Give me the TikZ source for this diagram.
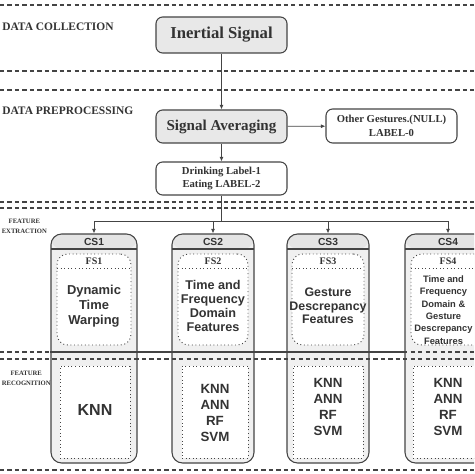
\documentclass[tikz,border=0pt]{standalone}
\usepackage{fontspec}
\setmainfont{Liberation Serif}
\setsansfont{Liberation Sans}
\usepackage{tikz}
\usetikzlibrary{arrows.meta}
\definecolor{linegray}{RGB}{68,68,68}
\definecolor{textgray}{RGB}{51,51,51}
\definecolor{boxgray}{RGB}{232,232,232}
\definecolor{colgray}{RGB}{240,240,240}
\definecolor{headgray}{RGB}{228,228,228}

\begin{document}
\begin{tikzpicture}[x=0.75pt,y=0.75pt,yscale=-1,xscale=1,
  laneline/.style={draw=linegray,line width=0.9pt,dash pattern=on 3.2pt off 2.4pt},
  mainbox/.style={draw=linegray,fill=boxgray,rounded corners=5pt,line width=0.8pt,text=textgray,
    inner sep=0pt,font=\bfseries\fontsize{12.5}{14}\selectfont},
  labelbox/.style={draw=linegray,fill=white,rounded corners=5pt,line width=0.8pt,text=textgray,
    inner sep=0pt,align=center,font=\bfseries\fontsize{8}{10}\selectfont},
  lanetext/.style={text=textgray,inner sep=0.75pt,align=center,font=\bfseries\fontsize{8.6}{11}\selectfont},
  lanesmall/.style={text=textgray,inner sep=0.75pt,align=center,font=\bfseries\fontsize{5}{7.5}\selectfont},
  column/.style={draw=linegray,fill=colgray,rounded corners=8pt,line width=0.8pt,inner sep=0pt,
    path picture={\fill[headgray] (path picture bounding box.north west) rectangle ([yshift=-11.25pt]path picture bounding box.north east);
      \draw[linegray,line width=0.8pt] ([yshift=-11.25pt]path picture bounding box.north west) -- ([yshift=-11.25pt]path picture bounding box.north east);}},
  fsbox/.style={draw=linegray,fill=white,dotted,rounded corners=8pt,line width=0.7pt,inner sep=0pt,
    path picture={\draw[linegray,dotted,line width=0.7pt] ([yshift=-10.5pt]path picture bounding box.north west) -- ([yshift=-10.5pt]path picture bounding box.north east);}},
  clbox/.style={draw=linegray,fill=white,dotted,line width=0.7pt,inner sep=0pt},
  cstext/.style={text=textgray,inner sep=0pt,font=\sffamily\bfseries\fontsize{7.7}{9}\selectfont},
  fstext/.style={text=textgray,inner sep=0pt,font=\bfseries\fontsize{7.5}{9}\selectfont},
  bodytext/.style={text=textgray,inner sep=0pt,align=center,font=\sffamily\bfseries},
  flow/.style={draw=linegray,line width=0.6pt,-{Latex[length=3.5pt,width=3pt]}},
  busline/.style={draw=linegray,line width=0.6pt}]
\path[use as bounding box,clip] (0,0) rectangle (474,474);

%Lane lines
\draw[laneline] (0,5) -- (474,5) ;
\draw[laneline] (0,71) -- (474,71) ;
\draw[laneline] (0,90) -- (474,90) ;
\draw[laneline] (0,202) -- (474,202) ;
\draw[laneline] (0,208) -- (474,208) ;
\draw[laneline] (0,470) -- (474,470) ;

%Lane titles
\node[lanetext,anchor=west] (lanecol) at (1,27) {DATA COLLECTION};
\node[lanetext,anchor=west] (lanepre) at (1,111) {DATA PREPROCESSING};
\node[lanesmall,anchor=west] (laneext) at (0.5,226) {FEATURE\\EXTRACTION};
\node[lanesmall,anchor=west] (lanerec) at (0.5,378) {FEATURE\\RECOGNITION};

%Main boxes
\node[mainbox,minimum width=98.25pt,minimum height=27pt] (insig) at (221.5,35) {Inertial Signal};
\node[mainbox,minimum width=98.25pt,minimum height=24.75pt,font=\bfseries\fontsize{11.3}{13}\selectfont] (sigavg) at (221.5,126.5) {Signal Averaging};
\node[labelbox,minimum width=98.25pt,minimum height=25.5pt] (other) at (391.5,126) {Other Gestures.(NULL)\\LABEL-0};
\node[labelbox,minimum width=98.25pt,minimum height=24.75pt] (drink) at (221.5,178.5) {Drinking Label-1\\Eating LABEL-2};

%Arrows
\draw[flow] (insig) -- (sigavg) ;
\draw[flow] (sigavg) -- (other) ;
\draw[flow] (sigavg) -- (drink) ;

%Columns
\node[column,minimum width=64.5pt,minimum height=171.75pt] (cs1) at (94,348.5) {};
\node[column,minimum width=61.5pt,minimum height=171.75pt] (cs2) at (213,348.5) {};
\node[column,minimum width=61.5pt,minimum height=171.75pt] (cs3) at (328,348.5) {};
\node[column,minimum width=64.5pt,minimum height=171.75pt] (cs4) at (448,348.5) {};

%Bus to columns
\coordinate (bus) at (221.5,221) ;
\coordinate (bus1) at (94,221) ;
\coordinate (bus4) at (448,221) ;
\draw[busline] (drink) -- (bus) ;
\draw[busline] (bus1) -- (bus4) ;
\draw[flow] (bus1) -- (cs1) ;
\draw[flow] (bus-|cs2) -- (cs2) ;
\draw[flow] (bus-|cs3) -- (cs3) ;
\draw[flow] (bus4) -- (cs4) ;

%Column titles
\node[cstext] (cs1lab) at (94,241.5) {CS1};
\node[cstext] (cs2lab) at (213,241.5) {CS2};
\node[cstext] (cs3lab) at (328,241.5) {CS3};
\node[cstext] (cs4lab) at (448,241.5) {CS4};

%Feature sets
\node[fsbox,minimum width=55.5pt,minimum height=68.25pt] (fs1) at (94,299.5) {};
\node[fsbox,minimum width=52.5pt,minimum height=68.25pt] (fs2) at (213,299.5) {};
\node[fsbox,minimum width=54pt,minimum height=68.25pt] (fs3) at (328,299.5) {};
\node[fsbox,minimum width=55.5pt,minimum height=68.25pt] (fs4) at (448,299.5) {};
\node[fstext] (fs1lab) at (94,261) {FS1};
\node[fstext] (fs2lab) at (213,261) {FS2};
\node[fstext] (fs3lab) at (328,261) {FS3};
\node[fstext] (fs4lab) at (448,261) {FS4};

% Text Node
\node[bodytext,font=\sffamily\bfseries\fontsize{9.7}{11.25}\selectfont] (fs1txt) at (94,306) {Dynamic\\Time\\Warping};
% Text Node
\node[bodytext,font=\sffamily\bfseries\fontsize{9.5}{10.6}\selectfont] (fs2txt) at (213,306) {Time and\\Frequency\\Domain\\Features};
% Text Node
\node[bodytext,font=\sffamily\bfseries\fontsize{9.3}{10}\selectfont] (fs3txt) at (328,306) {Gesture\\Descrepancy\\Features};
% Text Node
\node[bodytext,font=\sffamily\bfseries\fontsize{7}{9.2}\selectfont] (fs4txt) at (443.5,310) {Time and\\Frequency\\Domain \&\\Gesture\\Descrepancy\\Features};

%Lane lines over columns
\draw[laneline] (0,352) -- (474,352) ;
\draw[laneline] (0,359) -- (474,359) ;
\draw[busline,line width=0.8pt] (cs1.west|-0,352) -- (cs4.west|-0,352) ;

%Classifiers
\node[clbox,minimum width=52.5pt,minimum height=69pt] (cl1) at (95,412) {};
\node[clbox,minimum width=49.5pt,minimum height=69pt] (cl2) at (215,412) {};
\node[clbox,minimum width=52.5pt,minimum height=69pt] (cl3) at (328,412) {};
\node[clbox,minimum width=52.5pt,minimum height=69pt] (cl4) at (448,412) {};
% Text Node
\node[bodytext,font=\sffamily\bfseries\fontsize{12}{14}\selectfont] (cl1txt) at (95,410) {KNN};
% Text Node
\node[bodytext,font=\sffamily\bfseries\fontsize{10}{12}\selectfont] (cl2txt) at (215,413) {KNN\\ANN\\RF\\SVM};
% Text Node
\node[bodytext,font=\sffamily\bfseries\fontsize{10}{12}\selectfont] (cl3txt) at (328,406.5) {KNN\\ANN\\RF\\SVM};
% Text Node
\node[bodytext,font=\sffamily\bfseries\fontsize{10}{12}\selectfont] (cl4txt) at (448,407) {KNN\\ANN\\RF\\SVM};

\end{tikzpicture}
\end{document}
